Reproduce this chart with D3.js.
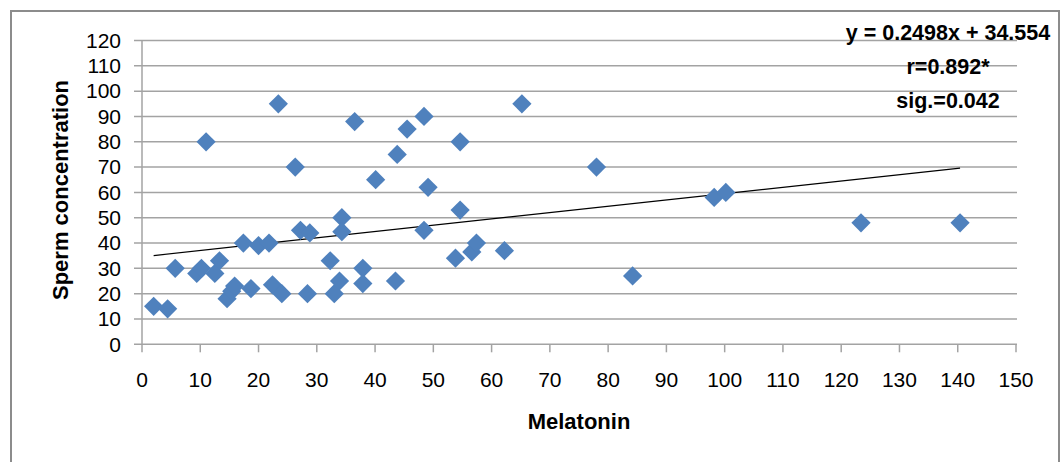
<!DOCTYPE html>
<html>
<head>
<meta charset="utf-8">
<script src="https://cdn.jsdelivr.net/npm/d3@7"></script>
<style>
  body { margin: 0; background: #fff; }
  svg { display: block; }
  text { font-family: "Liberation Sans", Arial, sans-serif; fill: #000; }
</style>
</head>
<body>
<div id="chart"></div>
<script>
// Melatonin (x) vs sperm concentration (y)
const melatonin = [2, 4.4, 5.7, 9.4, 10.2, 11, 12.5, 13.3, 14.6, 15.4,
  15.9, 17.4, 18.7, 20, 21.8, 22.4, 23.4, 24, 26.3, 27.2,
  28.4, 28.8, 32.3, 33, 33.9, 34.3, 34.3, 36.5, 37.9, 37.9,
  40.1, 43.5, 43.8, 45.5, 48.4, 48.4, 49.1, 53.8, 54.6, 54.6,
  56.6, 57.4, 62.2, 65.2, 78, 84.2, 98.2, 100.2, 123.4, 140.4];
const sperm = [15, 14, 30, 28, 30, 80, 28, 33, 18, 21,
  23, 40, 22, 39, 40, 23.5, 95, 20, 70, 45,
  20, 44, 33, 20, 25, 50, 44.5, 88, 30, 24,
  65, 25, 75, 85, 90, 45, 62, 34, 80, 53,
  36.5, 40, 37, 95, 70, 27, 58, 60, 48, 48];

const xTicks = d3.range(0, 151, 10);
const yTicks = d3.range(0, 121, 10);

const slope = 0.2498, intercept = 34.554;
const statLines = ["y = 0.2498x + 34.554", "r=0.892*", "sig.=0.042"];

const width = 1064, height = 462;
const gridColor = "#a3a3a3";
const pointColor = "#4f81bd";

const svg = d3.select("#chart").append("svg")
    .attr("width", width)
    .attr("height", height);

// outer chart border
svg.append("rect")
    .attr("x", 11).attr("y", 11)
    .attr("width", 1048).attr("height", 470)
    .attr("fill", "none")
    .attr("stroke", "#8c8c8c")
    .attr("stroke-width", 2);

const x = d3.scaleLinear().domain([0, 150]).range([142, 1016]);
const y = d3.scaleLinear().domain([0, 120]).range([344.3, 40.5]);

// horizontal gridlines (they also serve as the y ticks)
svg.append("g")
    .selectAll("line")
    .data(yTicks)
    .join("line")
    .attr("x1", x(0) - 8)
    .attr("x2", x(150) + 1)
    .attr("y1", d => y(d))
    .attr("y2", d => y(d))
    .attr("stroke", gridColor)
    .attr("stroke-width", 1.5);

// y axis line
svg.append("line")
    .attr("x1", x(0)).attr("x2", x(0))
    .attr("y1", y(120)).attr("y2", y(0))
    .attr("stroke", gridColor)
    .attr("stroke-width", 1.5);

// x ticks
svg.append("g")
    .selectAll("line")
    .data(xTicks)
    .join("line")
    .attr("x1", d => x(d))
    .attr("x2", d => x(d))
    .attr("y1", y(0))
    .attr("y2", y(0) + 8)
    .attr("stroke", gridColor)
    .attr("stroke-width", 1.5);

// tick labels
svg.append("g")
    .selectAll("text")
    .data(yTicks)
    .join("text")
    .attr("x", 121)
    .attr("y", d => y(d))
    .attr("dy", "0.35em")
    .attr("text-anchor", "end")
    .style("font-size", "21px")
    .text(d => d);

svg.append("g")
    .selectAll("text")
    .data(xTicks)
    .join("text")
    .attr("x", d => x(d))
    .attr("y", 380)
    .attr("dy", "0.35em")
    .attr("text-anchor", "middle")
    .style("font-size", "21px")
    .text(d => d);

// axis titles
svg.append("text")
    .attr("x", 579)
    .attr("y", 421)
    .attr("dy", "0.35em")
    .attr("text-anchor", "middle")
    .style("font-size", "22px")
    .style("font-weight", "bold")
    .text("Melatonin");

svg.append("text")
    .attr("transform", "translate(60, 190) rotate(-90)")
    .attr("dy", "0.35em")
    .attr("text-anchor", "middle")
    .style("font-size", "22px")
    .style("font-weight", "bold")
    .text("Sperm concentration");

// linear trendline over the data range
const xMin = d3.min(melatonin), xMax = d3.max(melatonin);
svg.append("line")
    .attr("x1", x(xMin)).attr("y1", y(slope * xMin + intercept))
    .attr("x2", x(xMax)).attr("y2", y(slope * xMax + intercept))
    .attr("stroke", "#000")
    .attr("stroke-width", 1.2);

// diamond markers
const diamond = d3.symbol(d3.symbolSquare, 185);
svg.append("g")
    .selectAll("path")
    .data(melatonin.map((m, i) => [m, sperm[i]]))
    .join("path")
    .attr("d", diamond)
    .attr("transform", d => `translate(${x(d[0])},${y(d[1])}) rotate(45)`)
    .attr("fill", pointColor);

// equation / stats label
svg.append("g")
    .selectAll("text")
    .data(statLines)
    .join("text")
    .attr("x", 948)
    .attr("y", (d, i) => 32 + i * 34)
    .attr("dy", "0.35em")
    .attr("text-anchor", "middle")
    .style("font-size", "21.5px")
    .style("font-weight", "bold")
    .text(d => d);
</script>
</body>
</html>
